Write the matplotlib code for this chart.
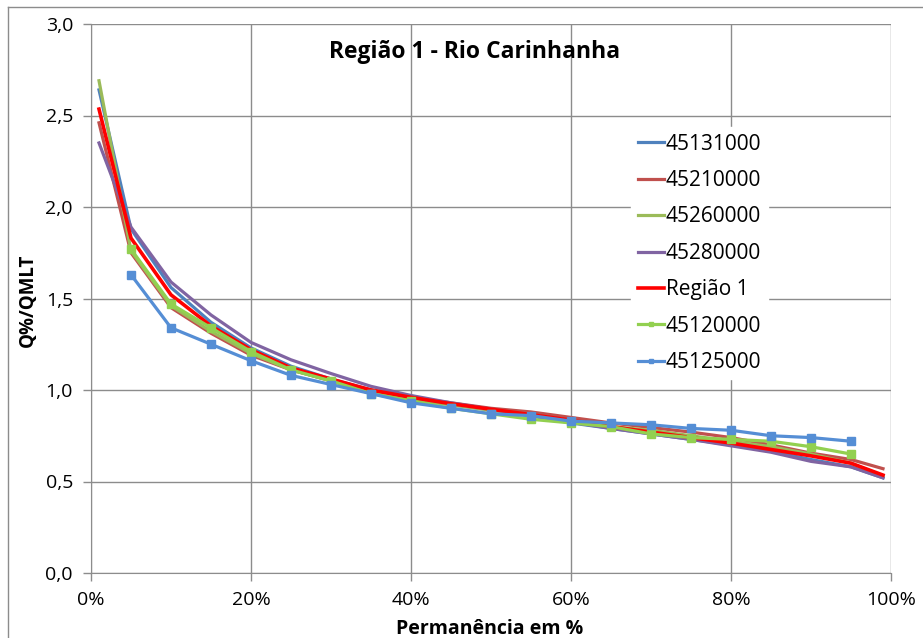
import matplotlib.pyplot as plt
from matplotlib.lines import Line2D
import numpy as np

# dados (permanência em %, Q%/QMLT)
perm = [1, 5, 10, 15, 20, 25, 30, 35, 40, 45, 50, 55, 60, 65, 70, 75, 80, 85, 90, 95, 99]
perm_pontos = [5, 10, 15, 20, 25, 30, 35, 40, 45, 50, 55, 60, 65, 70, 75, 80, 85, 90, 95]

q_45131000 = [2.64, 1.88, 1.56, 1.37, 1.23, 1.13, 1.06, 1.00, 0.95, 0.92, 0.89, 0.86, 0.82, 0.79, 0.76, 0.73, 0.70, 0.665, 0.62, 0.58, 0.52]
q_45210000 = [2.46, 1.75, 1.45, 1.31, 1.19, 1.11, 1.05, 1.00, 0.96, 0.93, 0.90, 0.88, 0.85, 0.82, 0.795, 0.77, 0.74, 0.70, 0.655, 0.62, 0.57]
q_45260000 = [2.69, 1.76, 1.46, 1.32, 1.20, 1.11, 1.05, 0.99, 0.95, 0.92, 0.89, 0.86, 0.83, 0.80, 0.78, 0.75, 0.72, 0.69, 0.65, 0.60, 0.53]
q_45280000 = [2.35, 1.89, 1.59, 1.41, 1.26, 1.165, 1.09, 1.02, 0.97, 0.93, 0.895, 0.86, 0.825, 0.79, 0.76, 0.73, 0.695, 0.66, 0.61, 0.58, 0.52]
q_regiao1 = [2.535, 1.83, 1.52, 1.35, 1.22, 1.12, 1.06, 1.00, 0.96, 0.925, 0.895, 0.865, 0.835, 0.80, 0.77, 0.74, 0.71, 0.675, 0.64, 0.60, 0.535]
q_45120000 = [1.77, 1.47, 1.34, 1.21, 1.11, 1.05, 0.98, 0.94, 0.90, 0.87, 0.84, 0.82, 0.80, 0.76, 0.74, 0.73, 0.72, 0.69, 0.65]
q_45125000 = [1.63, 1.34, 1.25, 1.16, 1.08, 1.03, 0.98, 0.93, 0.90, 0.87, 0.86, 0.83, 0.82, 0.81, 0.79, 0.78, 0.75, 0.74, 0.72]

xticks = [0, 20, 40, 60, 80, 100]
xticklabels = ['0%', '20%', '40%', '60%', '80%', '100%']
yticks = [0.0, 0.5, 1.0, 1.5, 2.0, 2.5, 3.0]
yticklabels = ['0,0', '0,5', '1,0', '1,5', '2,0', '2,5', '3,0']

plt.rcParams['font.family'] = ['Open Sans', 'DejaVu Sans']

fig = plt.figure(figsize=(9.23, 6.38), dpi=100)
W, H = 923, 638
ax = fig.add_axes([91 / W, 1 - 573 / H, (891 - 91) / W, (573 - 24) / H])

# moldura externa (só esquerda e topo aparecem)
fig.add_artist(Line2D([8 / W, 8 / W], [0, 1 - 7 / H], color='#8c8c8c', lw=1.0))
fig.add_artist(Line2D([8 / W, 1], [1 - 7 / H, 1 - 7 / H], color='#8c8c8c', lw=1.0))

lw = 2.3
ax.plot(perm, q_45131000, color='#4F81BD', lw=lw, label='45131000')
ax.plot(perm, q_45210000, color='#C0504D', lw=lw, label='45210000')
ax.plot(perm, q_45260000, color='#9BBB59', lw=lw, label='45260000')
ax.plot(perm, q_45280000, color='#8064A2', lw=lw, label='45280000')
ax.plot(perm, q_regiao1, color='#FF0000', lw=2.6, label='Região 1')
ax.plot(perm_pontos, q_45120000, color='#92D050', lw=lw, marker='s', ms=5.5, label='45120000')
ax.plot(perm_pontos, q_45125000, color='#558ED5', lw=lw, marker='s', ms=5.5, label='45125000')

ax.set_xlim(0, 100)
ax.set_ylim(0, 3.0)
ax.set_xticks(xticks)
ax.set_xticklabels(xticklabels)
ax.set_yticks(yticks)
ax.set_yticklabels(yticklabels)
ax.tick_params(axis='both', labelsize=14, length=6, width=1, color='#8c8c8c', pad=7)
ax.grid(True, color='#8c8c8c', lw=1)
ax.set_axisbelow(True)
for s in ['top', 'right']:
    ax.spines[s].set_visible(False)
for s in ['left', 'bottom']:
    ax.spines[s].set_color('#8c8c8c')

fig.text(475 / W, 1 - 52 / H, 'Região 1 - Rio Carinhanha', fontsize=16.5, fontweight='bold', ha='center', va='center')
fig.text(490 / W, 1 - 629 / H, 'Permanência em %', fontsize=14, fontweight='bold', ha='center', va='center')
fig.text(28 / W, 1 - 300 / H, 'Q%/QMLT', fontsize=13.5, fontweight='bold', ha='center', va='center', rotation=90)

leg = ax.legend(loc='upper left', bbox_to_anchor=(621 / W, 1 - 117 / H), bbox_transform=fig.transFigure,
                frameon=True, fancybox=False, edgecolor='white', framealpha=1, fontsize=15,
                handlelength=1.25, handletextpad=0.1, labelspacing=0.74, borderpad=0.3, markerscale=0.6)

fig.savefig('out.png', dpi=100)
